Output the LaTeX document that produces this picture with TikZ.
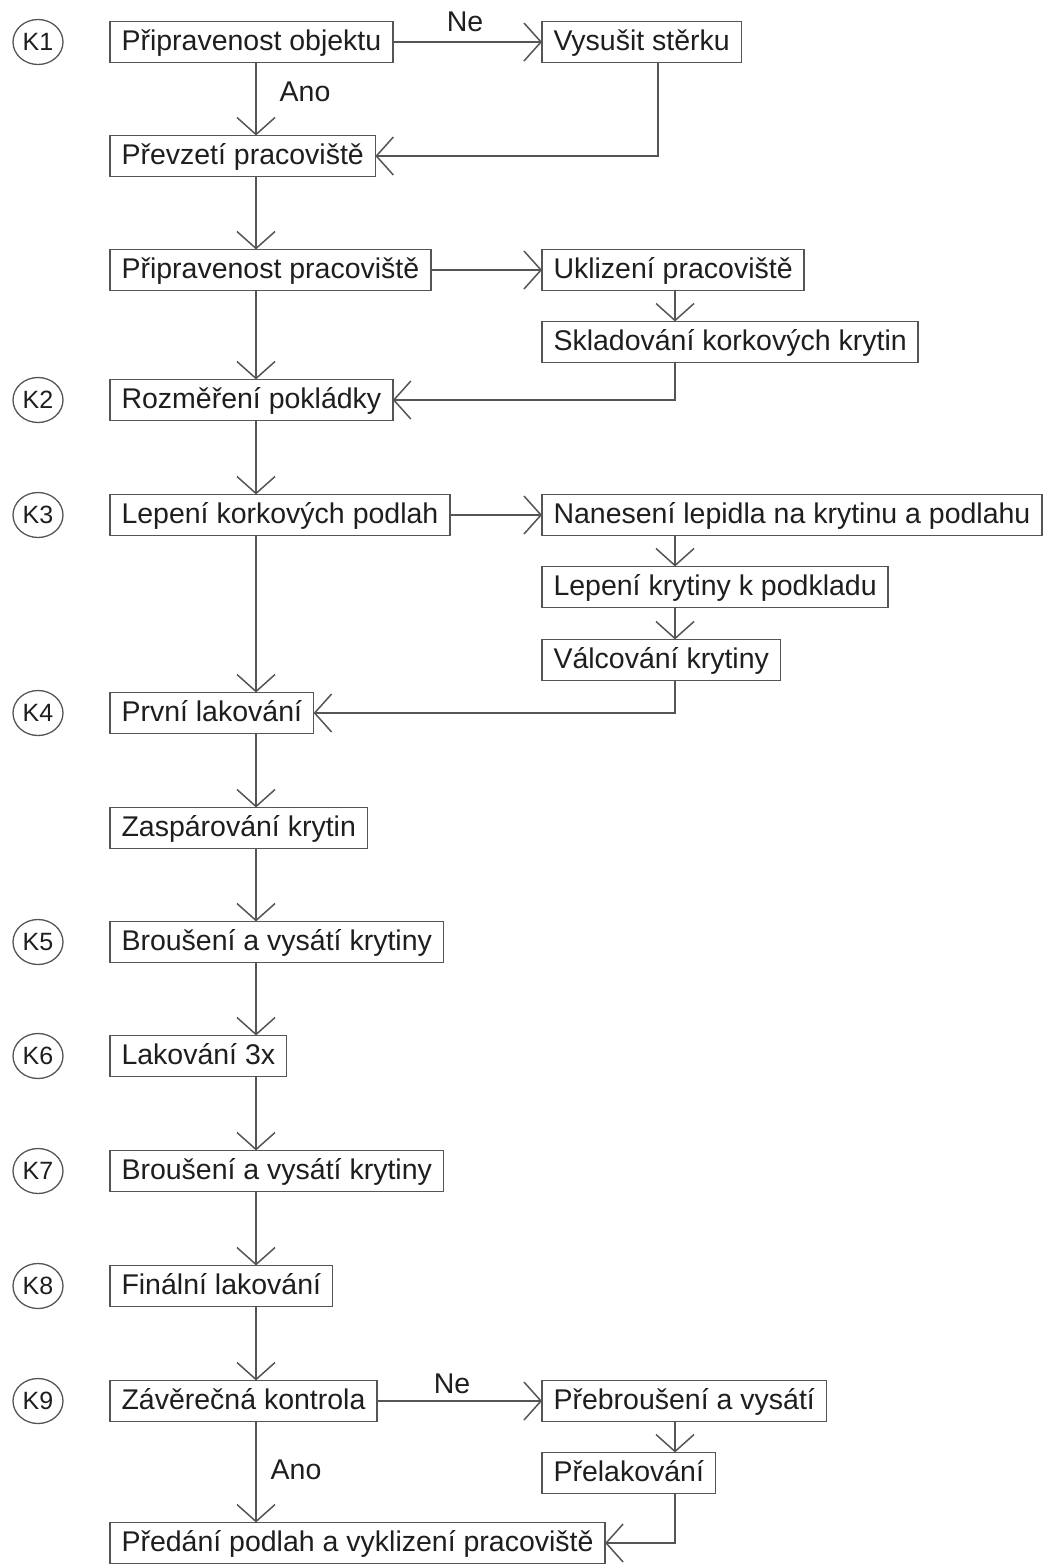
\documentclass[tikz,border=0pt]{standalone}
\usepackage{fontspec}
\setmainfont{Liberation Sans}
\usetikzlibrary{arrows.meta,shapes.geometric}
\definecolor{lin}{HTML}{555555}
\definecolor{txt}{HTML}{1E1E1E}
\begin{document}
\begin{tikzpicture}[x=1pt,y=-1pt,
  box/.style={draw=lin, line width=1.5pt, anchor=west, outer sep=0pt,
    inner xsep=11.5pt, inner ysep=6.5pt, text height=22pt, text depth=6pt,
    text=txt, font=\fontsize{28.5}{30}\selectfont},
  kmark/.style={ellipse, draw=lin, line width=1.3pt, minimum width=50pt,
    minimum height=45pt, inner sep=0pt, text=txt, font=\fontsize{25}{27}\selectfont},
  lbl/.style={text=txt, font=\fontsize{28.5}{30}\selectfont, inner sep=0pt},
  arr/.style={draw=lin, line width=1.5pt, -{Straight Barb[length=17pt,width=38pt,line width=1.5pt]}}
]
\useasboundingbox (0,0) rectangle (1044,1564);
\coordinate (xl) at (256,0);
\coordinate (xr) at (675,0);
\coordinate (xv) at (658,0);

% K markers
\node[kmark] (k1) at (38,42) {K1};
\node[kmark] (k2) at (38,400) {K2};
\node[kmark] (k3) at (38,515) {K3};
\node[kmark] (k4) at (38,713) {K4};
\node[kmark] (k5) at (38,942) {K5};
\node[kmark] (k6) at (38,1056) {K6};
\node[kmark] (k7) at (38,1171) {K7};
\node[kmark] (k8) at (38,1286) {K8};
\node[kmark] (k9) at (38,1401) {K9};

% main column
\node[box] (b1) at (110,42) {Připravenost objektu};
\node[box] (b2) at (110,156) {Převzetí pracoviště};
\node[box] (b3) at (110,270) {Připravenost pracoviště};
\node[box] (b4) at (110,400) {Rozměření pokládky};
\node[box] (b5) at (110,515) {Lepení korkových podlah};
\node[box] (b6) at (110,713) {První lakování};
\node[box] (b7) at (110,828) {Zaspárování krytin};
\node[box] (b8) at (110,942) {Broušení a vysátí krytiny};
\node[box] (b9) at (110,1056) {Lakování 3x};
\node[box] (b10) at (110,1171) {Broušení a vysátí krytiny};
\node[box] (b11) at (110,1286) {Finální lakování};
\node[box] (b12) at (110,1401) {Závěrečná kontrola};
\node[box] (b13) at (110,1543) {Předání podlah a vyklizení pracoviště};

% right column
\node[box] (v1) at (542,42) {Vysušit stěrku};
\node[box] (r3a) at (542,270) {Uklizení pracoviště};
\node[box] (r3b) at (542,342) {Skladování korkových krytin};
\node[box] (r5a) at (542,515) {Nanesení lepidla na krytinu a podlahu};
\node[box] (r5b) at (542,587) {Lepení krytiny k podkladu};
\node[box] (r5c) at (542,660) {Válcování krytiny};
\node[box] (r12a) at (542,1401) {Přebroušení a vysátí};
\node[box] (r12b) at (542,1473) {Přelakování};

% labels
\node[lbl] (ne1) at (465,22) {Ne};
\node[lbl] (ano1) at (305,92) {Ano};
\node[lbl] (ne2) at (452,1384) {Ne};
\node[lbl] (ano2) at (296,1470) {Ano};

% main vertical flow
\foreach \a/\b in {b1/b2,b2/b3,b3/b4,b4/b5,b5/b6,b6/b7,b7/b8,b8/b9,b9/b10,b10/b11,b11/b12,b12/b13}{
  \draw[arr] (\a.south -| xl) -- (\b.north -| xl);
}

% branches
\draw[arr] (b1.east) -- (v1.west);
\draw[arr] (v1.south -| xv) |- (b2.east);

\draw[arr] (b3.east) -- (r3a.west);
\draw[arr] (r3a.south -| xr) -- (r3b.north -| xr);
\draw[arr] (r3b.south -| xr) |- (b4.east);

\draw[arr] (b5.east) -- (r5a.west);
\draw[arr] (r5a.south -| xr) -- (r5b.north -| xr);
\draw[arr] (r5b.south -| xr) -- (r5c.north -| xr);
\draw[arr] (r5c.south -| xr) |- (b6.east);

\draw[arr] (b12.east) -- (r12a.west);
\draw[arr] (r12a.south -| xr) -- (r12b.north -| xr);
\draw[arr] (r12b.south -| xr) |- (b13.east);
\end{tikzpicture}
\end{document}
